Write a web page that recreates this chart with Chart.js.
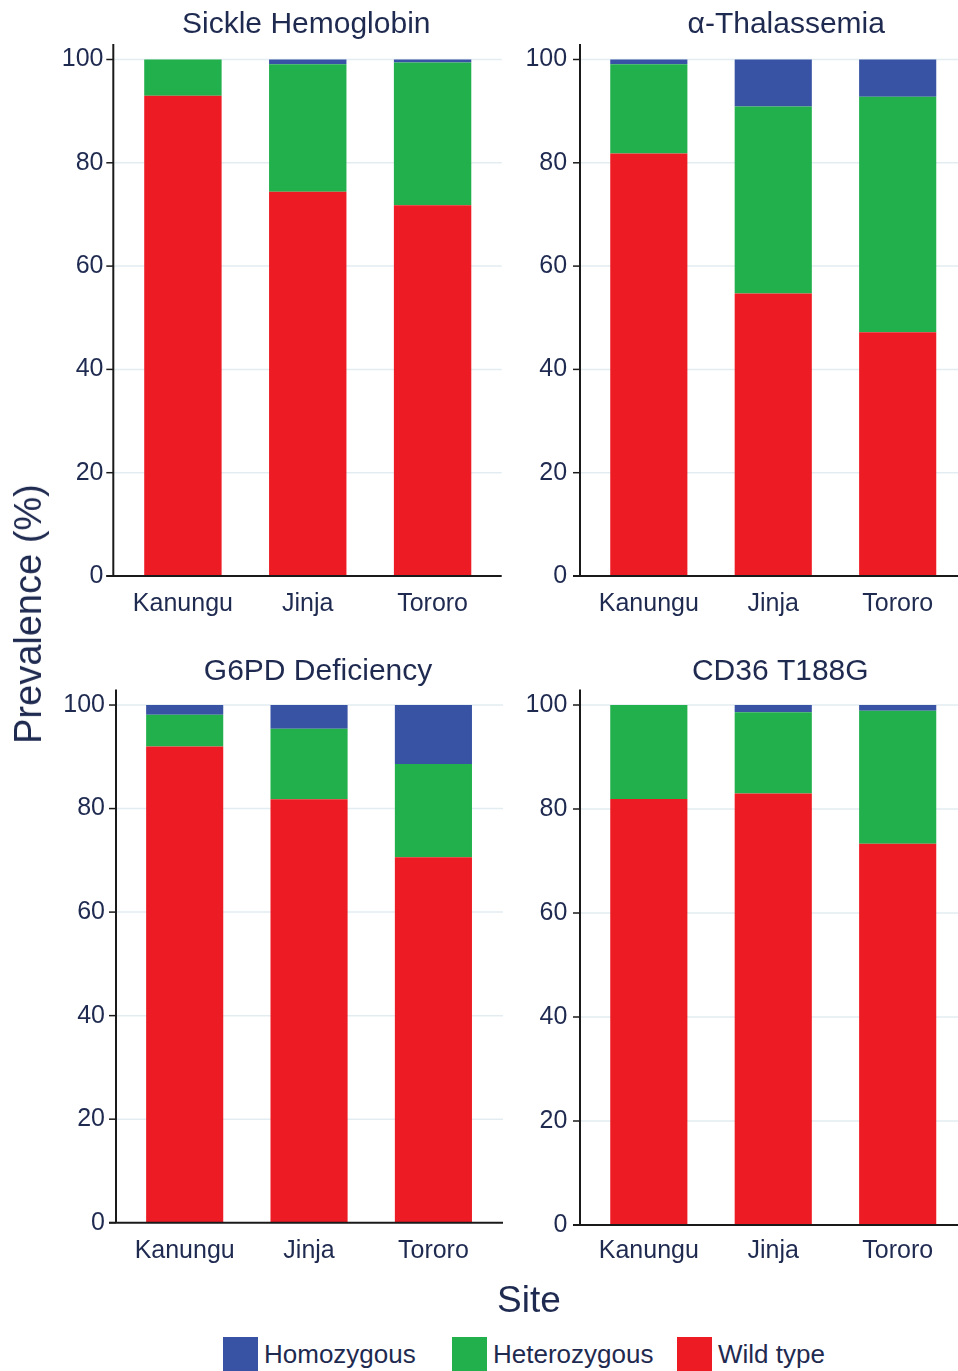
<!DOCTYPE html>
<html>
<head>
<meta charset="utf-8">
<script src="https://cdn.jsdelivr.net/npm/chart.js@4.4.1/dist/chart.umd.min.js"></script>
<style>
  html, body { margin: 0; padding: 0; background: #ffffff; overflow: hidden; width: 958px; height: 1371px; }
  canvas { position: absolute; }
  .lbl { position: absolute; font-family: "Liberation Sans", Arial, sans-serif; color: #1f2a50; white-space: nowrap; line-height: 1; }
  .leg { position: absolute; top: 1337px; display: flex; align-items: center; font-family: "Liberation Sans", Arial, sans-serif; font-size: 26px; color: #1f2a50; white-space: nowrap; }
  .leg span.box { display: inline-block; width: 35px; height: 35px; margin-right: 6px; }
</style>
</head>
<body>
<canvas id="c1" width="510" height="640" style="left:0px;top:0px"></canvas>
<canvas id="c2" width="450" height="640" style="left:515px;top:0px"></canvas>
<canvas id="c3" width="510" height="640" style="left:0px;top:640px"></canvas>
<canvas id="c4" width="450" height="640" style="left:515px;top:640px"></canvas>
<div class="lbl" id="ylab"></div>
<div class="lbl" id="xlab"></div>
<div id="legend"></div>
<script>
// ---------------- data ----------------
const sites = ['Kanungu', 'Jinja', 'Tororo'];
const seriesNames = ['Homozygous', 'Heterozygous', 'Wild type'];
const seriesColors = ['#3953a4', '#21b04b', '#ed1c24'];
const panelTitles = ['Sickle Hemoglobin', 'α-Thalassemia', 'G6PD Deficiency', 'CD36 T188G'];
const yTicks = [0, 20, 40, 60, 80, 100];
const axisLabelY = 'Prevalence (%)';
const axisLabelX = 'Site';

const sickleWild = [93.0, 74.4, 71.8];
const sickleHet  = [7.0, 24.7, 27.6];
const sickleHomo = [0.0, 0.9, 0.6];

const thalWild = [81.8, 54.7, 47.2];
const thalHet  = [17.3, 36.2, 45.6];
const thalHomo = [0.9, 9.1, 7.2];

const g6pdWild = [92.0, 81.8, 70.6];
const g6pdHet  = [6.1, 13.6, 18.0];
const g6pdHomo = [1.9, 4.6, 11.4];

const cd36Wild = [81.9, 83.0, 73.3];
const cd36Het  = [18.1, 15.6, 25.6];
const cd36Homo = [0.0, 1.4, 1.1];

// ---------------- style ----------------
const FONT = '"Liberation Sans", Arial, sans-serif';
const TXT = '#1f2a50';
const GRID = '#e3edf1';
const AXIS = '#1a1a1a';

function framePlugin(g) {
  return {
    id: 'frame',
    afterLayout(chart) {
      if (chart.titleBlock) {
        chart.titleBlock.left += g.tdx;
        chart.titleBlock.right += g.tdx;
      }
    },
    beforeDatasetsDraw(chart) {
      const { ctx, scales: { y } } = chart;
      ctx.save();
      ctx.strokeStyle = GRID;
      ctx.lineWidth = 1.5;
      yTicks.forEach(v => {
        if (v === 0) return;
        const py = y.getPixelForValue(v);
        ctx.beginPath();
        ctx.moveTo(g.axisX, py);
        ctx.lineTo(g.gridRight, py);
        ctx.stroke();
      });
      ctx.restore();
    },
    afterDatasetsDraw(chart) {
      const { ctx, chartArea, scales: { y } } = chart;
      ctx.save();
      ctx.strokeStyle = AXIS;
      ctx.lineWidth = 2;
      ctx.beginPath();
      ctx.moveTo(g.axisX, chartArea.top);
      ctx.lineTo(g.axisX, chartArea.bottom);
      ctx.stroke();
      ctx.beginPath();
      ctx.moveTo(g.axisX - 7, chartArea.bottom);
      ctx.lineTo(g.gridRight, chartArea.bottom);
      ctx.stroke();
      ctx.lineWidth = 1.5;
      yTicks.forEach(v => {
        const py = y.getPixelForValue(v);
        ctx.beginPath();
        ctx.moveTo(g.axisX - 7, py);
        ctx.lineTo(g.axisX, py);
        ctx.stroke();
      });
      ctx.restore();
    }
  };
}

function makePanel(id, title, wild, het, homo, g) {
  return new Chart(document.getElementById(id), {
    type: 'bar',
    data: {
      labels: sites,
      datasets: [
        { label: seriesNames[2], data: wild, backgroundColor: seriesColors[2] },
        { label: seriesNames[1], data: het, backgroundColor: seriesColors[1] },
        { label: seriesNames[0], data: homo, backgroundColor: seriesColors[0] }
      ]
    },
    options: {
      responsive: false,
      animation: false,
      layout: { padding: { left: 0, right: g.padR, top: 0, bottom: 0 } },
      datasets: { bar: { barPercentage: 0.62, categoryPercentage: 1, borderWidth: 0 } },
      plugins: {
        legend: { display: false },
        tooltip: { enabled: false },
        title: {
          display: true, text: title, fullSize: false, color: TXT,
          font: { family: FONT, size: 30, weight: 'normal', lineHeight: 1.2 },
          padding: { top: g.tPadTop, bottom: g.tPadBot }
        }
      },
      scales: {
        x: {
          stacked: true,
          grid: { display: false, drawTicks: false },
          border: { display: false },
          ticks: { color: TXT, font: { family: FONT, size: 25 }, padding: g.xPad, maxRotation: 0, autoSkip: false },
          afterFit: s => { s.height = g.xH; }
        },
        y: {
          stacked: true, min: 0, max: 103,
          grid: { display: false, drawTicks: false },
          border: { display: false },
          afterBuildTicks: s => { s.ticks = yTicks.map(v => ({ value: v })); },
          ticks: { color: TXT, font: { family: FONT, size: 25 }, padding: g.yPad },
          afterFit: s => { s.width = g.plotLeft; }
        }
      }
    },
    plugins: [framePlugin(g)]
  });
}

// geometry in canvas coordinates
makePanel('c1', panelTitles[0], sickleWild, sickleHet, sickleHomo,
  { plotLeft: 120.5, padR: 15, tPadTop: 6.5, tPadBot: 1.5, xH: 64, xPad: 13, yPad: 17, axisX: 113.3, gridRight: 501.7, tdx: -1.5 });
makePanel('c2', panelTitles[1], thalWild, thalHet, thalHomo,
  { plotLeft: 71.6, padR: 5.1, tPadTop: 6.5, tPadBot: 1.5, xH: 64, xPad: 13, yPad: 19.5, axisX: 65, gridRight: 450, tdx: 13 });
makePanel('c3', panelTitles[2], g6pdWild, g6pdHet, g6pdHomo,
  { plotLeft: 122.5, padR: 14.4, tPadTop: 13.5, tPadBot: 0, xH: 57.3, xPad: 13, yPad: 17.5, axisX: 116, gridRight: 503, tdx: 9 });
makePanel('c4', panelTitles[3], cd36Wild, cd36Het, cd36Homo,
  { plotLeft: 71.6, padR: 5.1, tPadTop: 13.4, tPadBot: 0, xH: 55, xPad: 11, yPad: 19.3, axisX: 65, gridRight: 450, tdx: 7 });

// shared axis titles and legend
const ylab = document.getElementById('ylab');
ylab.textContent = axisLabelY;
ylab.style.fontSize = '38px';
ylab.style.left = '28px';
ylab.style.top = '614px';
ylab.style.transform = 'translate(-50%, -50%) rotate(-90deg)';

const xlab = document.getElementById('xlab');
xlab.textContent = axisLabelX;
xlab.style.fontSize = '37px';
xlab.style.left = '529px';
xlab.style.top = '1299px';
xlab.style.transform = 'translate(-50%, -50%)';

const legendX = [223, 452, 677];
const legend = document.getElementById('legend');
seriesNames.forEach((name, i) => {
  const item = document.createElement('div');
  item.className = 'leg';
  item.style.left = legendX[i] + 'px';
  const box = document.createElement('span');
  box.className = 'box';
  box.style.background = seriesColors[i];
  const t = document.createElement('span');
  t.textContent = name;
  item.appendChild(box);
  item.appendChild(t);
  legend.appendChild(item);
});
</script>
</body>
</html>
